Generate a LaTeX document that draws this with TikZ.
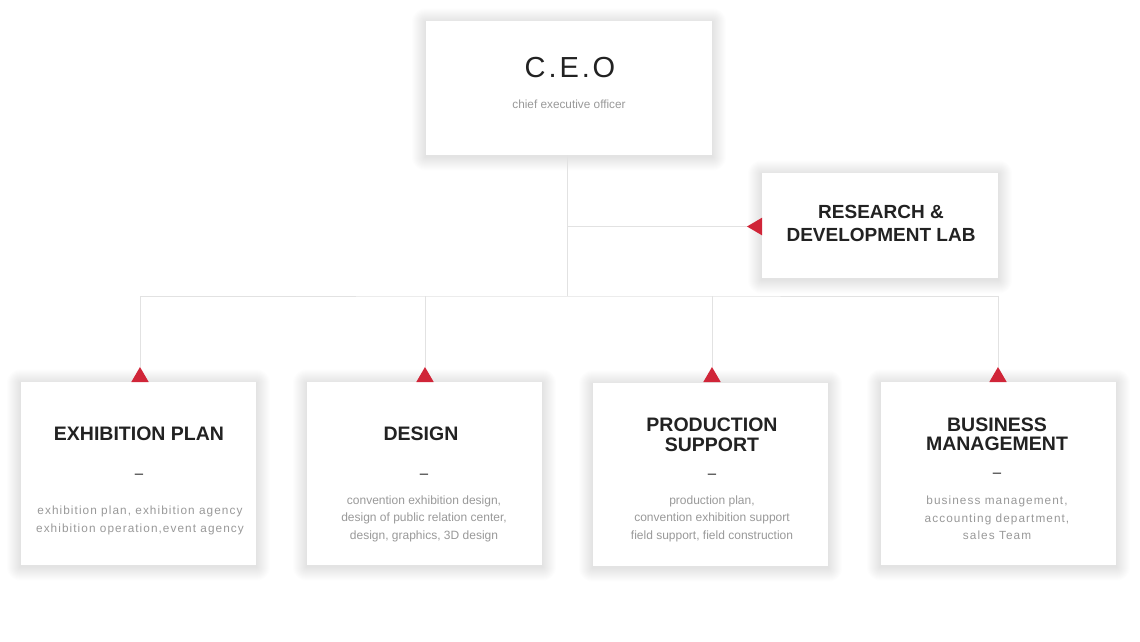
\documentclass[tikz,border=0pt]{standalone}
\usepackage{fontspec}
\setmainfont{Liberation Sans}
\usetikzlibrary{backgrounds}
\definecolor{titlecol}{HTML}{222222}
\definecolor{desccol}{HTML}{999999}
\definecolor{linecol}{HTML}{E2E2E2}
\definecolor{redtri}{HTML}{D02538}
\newfontfamily\ceofont[LetterSpace=10]{Liberation Sans}
\newfontfamily\spacedfont[LetterSpace=9]{Liberation Sans}
\tikzset{
  box/.style={fill=white, draw=none, inner sep=0pt},
  lowbox/.style={box, minimum width=235pt, minimum height=183pt},
  titletext/.style={font=\fontsize{19.5}{19.5}\selectfont\bfseries, text=titlecol, align=center, inner sep=0pt},
  desctext/.style={font=\fontsize{12}{17.5}\selectfont, text=desccol, align=center, inner sep=0pt},
  desctextsp/.style={font=\fontsize{11.8}{17.5}\spacedfont, text=desccol, align=center, inner sep=0pt},
  dashtext/.style={font=\fontsize{15}{15}\selectfont, text=titlecol, inner sep=0pt},
  conn/.style={draw=linecol, line width=1pt},
  tri/.style={fill=redtri, draw=none},
  shadowlayer/.style={fill=black, opacity=0.006}
}
\newcommand{\softshadow}[1]{%
  \foreach \k in {1,...,14}{
    \fill[shadowlayer, rounded corners=\k pt] ([xshift=-\k pt, yshift=-\k pt-1.5pt]#1.south west) rectangle ([xshift=\k pt, yshift=\k pt-1.5pt]#1.north east);
  }%
}
\begin{document}
\begin{tikzpicture}[x=1pt,y=-1pt]
\useasboundingbox (0,0) rectangle (1140,642);

% CEO
\node[box, minimum width=286pt, minimum height=134pt] (ceo) at (569,88) {};
\node[font=\fontsize{29}{29}\ceofont, text=titlecol, inner sep=0pt] (ceot) at (570,68) {C.E.O};
\node[font=\fontsize{11.8}{12}\selectfont, text=desccol, inner sep=0pt] (ceos) at (569,104) {chief executive officer};

% R&D
\node[box, minimum width=236pt, minimum height=105pt] (rd) at (880,225.5) {};
\node[titletext, font=\fontsize{19}{22.7}\selectfont\bfseries] (rdt) at (881,223.5) {RESEARCH \&\\DEVELOPMENT LAB};

% lower boxes
\node[lowbox] (ep) at (138.5,473.5) {};
\node[lowbox] (de) at (424.5,473.5) {};
\node[lowbox] (pr) at (710.5,474.5) {};
\node[lowbox] (bm) at (998.5,473.5) {};

\node[titletext] (ept) at (139,434) {EXHIBITION PLAN};
\node[dashtext] (epd) at (139,476) {–};
\node[desctextsp, font=\fontsize{11.8}{18}\spacedfont] (epx) at (140,520) {exhibition plan, exhibition agency\\exhibition operation,event agency};

\node[titletext] (det) at (421,434) {DESIGN};
\node[dashtext] (ded) at (424,476) {–};
\node[desctext] (dex) at (424,518.5) {convention exhibition design,\\design of public relation center,\\design, graphics, 3D design};

\node[titletext] (prt) at (712,435) {PRODUCTION\\SUPPORT};
\node[dashtext] (prd) at (712,476) {–};
\node[desctext] (prx) at (712,518.5) {production plan,\\convention exhibition support\\field support, field construction};

\node[titletext] (bmt) at (997,434.5) {BUSINESS\\MANAGEMENT};
\node[dashtext] (bmd) at (997,475.5) {–};
\node[desctextsp] (bmx) at (997,518) {business management,\\accounting department,\\sales Team};

\begin{pgfonlayer}{background}
  \fill[white] (0,0) rectangle (1140,642);
  \softshadow{ceo}
  \softshadow{rd}
  \softshadow{ep}
  \softshadow{de}
  \softshadow{pr}
  \softshadow{bm}
\end{pgfonlayer}

% connector coordinates
\coordinate (j1) at (567,226.5);
\coordinate (j2) at (567,296);
\coordinate (tr) at (747,226.5);
\coordinate (t1) at (140,367);
\coordinate (t2) at (425,367);
\coordinate (t3) at (712,367);
\coordinate (t4) at (998,367);

\draw[conn] (ceo.south -| j2) -- (j2);
\draw[conn] (j1) -- (tr);
\draw[conn] (t1) |- (j2) -| (t4);
\draw[conn] (t2) -- (t2 |- j2);
\draw[conn] (t3) -- (t3 |- j2);

% triangles
\foreach \t in {t1,t2,t3,t4}{
  \fill[tri] (\t) -- ([xshift=8.7pt,yshift=-15pt]\t) -- ([xshift=-8.7pt,yshift=-15pt]\t) -- cycle;
}
\fill[tri] (tr) -- ([xshift=15pt,yshift=-8.8pt]tr) -- ([xshift=15pt,yshift=8.8pt]tr) -- cycle;
\end{tikzpicture}
\end{document}
